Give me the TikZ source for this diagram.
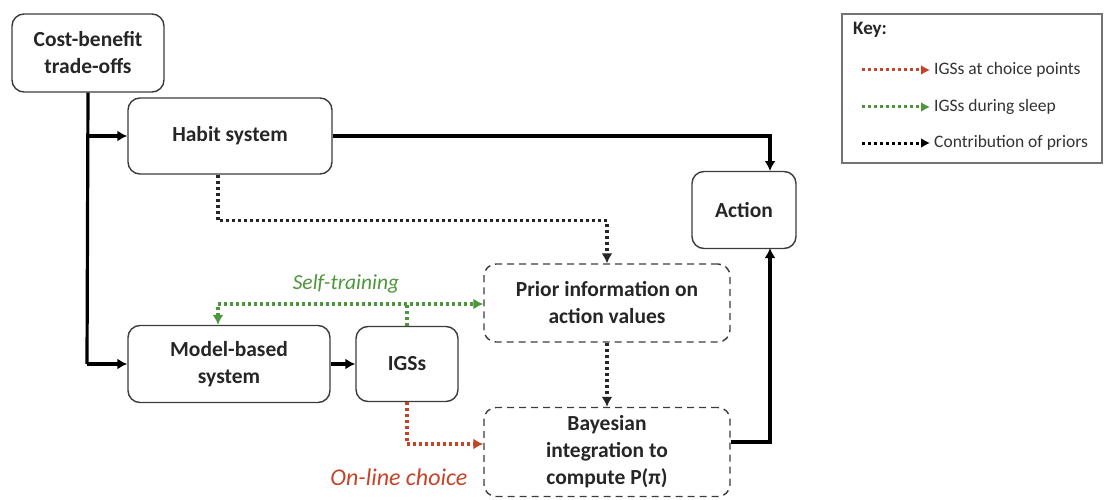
\documentclass[tikz,border=0pt]{standalone}
\usepackage{fontspec}
\setmainfont{Carlito}
\usetikzlibrary{arrows.meta,calc}
\definecolor{redc}{RGB}{196,68,40}
\definecolor{greenc}{RGB}{78,150,60}
\definecolor{boxc}{RGB}{60,60,60}
\tikzset{
  x=1pt,y=-1pt,
  solidbox/.style={draw=boxc,line width=1.4pt,rounded corners=12pt,align=center,font=\bfseries\fontsize{21.5}{27}\selectfont,text=black!85,inner sep=0pt},
  dashbox/.style={solidbox,dash pattern=on 7pt off 5pt},
  flow/.style={line width=3.2pt,-{Latex[length=10pt,width=11pt]}},
  flowplain/.style={line width=3.2pt},
  dotline/.style={line width=3.4pt,dash pattern=on 3pt off 3pt},
  prior/.style={dotline,black!85,-{Latex[length=10pt,width=11pt]}},
  sleep/.style={dotline,greenc},
  choice/.style={dotline,redc},
  keytext/.style={anchor=west,font=\fontsize{17.5}{20}\selectfont,text=black!80,inner sep=0pt}
}
\begin{document}
\begin{tikzpicture}
\useasboundingbox (0,0) rectangle (1105,500);
% nodes
\node[solidbox,minimum width=152pt,minimum height=78pt] (cb) at (88,53) {Cost-benefit\\trade-offs};
\node[solidbox,minimum width=204pt,minimum height=76pt] (habit) at (230,136) {Habit system};
\node[solidbox,minimum width=104pt,minimum height=77pt] (action) at (744,210) {Action};
\node[dashbox,minimum width=246pt,minimum height=78pt] (prior) at (607,303) {Prior information on\\action values};
\node[solidbox,minimum width=202pt,minimum height=77pt] (mb) at (229,364) {Model-based\\system};
\node[solidbox,minimum width=102pt,minimum height=75pt] (igs) at (407,364) {IGSs};
\node[dashbox,minimum width=246pt,minimum height=89pt] (bayes) at (607,452) {Bayesian\\integration to\\compute P(π)};
\coordinate (ain) at (770,171);
\coordinate (aout) at (770,248);
\coordinate (j1) at (87,136);
\coordinate (j2) at (87,364);
\coordinate (gj) at (407,302);
% solid flows
\draw[flowplain] (cb.south) -- (j2);
\draw[flow] (j1) -- (habit.west);
\draw[flow] (j2) -- (mb.west);
\draw[flow] (mb.east) -- (igs.west);
\draw[flow] (habit.east) -| (ain);
\draw[flow] ([yshift=10pt]bayes.east) -| (aout);
% priors
\draw[prior] ([xshift=-12pt]habit.south) -- ++(0,46) -| (prior.north);
\draw[prior] (prior.south) -- (bayes.north);
% sleep
\draw[sleep,{Latex[length=10pt,width=11pt]}-{Latex[length=10pt,width=11pt]}] ([xshift=-11pt]mb.north) |- ([yshift=-1pt]prior.west);
\draw[sleep] (igs.north) -- (gj);
\node[text=greenc,font=\itshape\fontsize{21.5}{24}\selectfont] (st) at (346,284) {Self-training};
% on-line choice
\draw[choice,-{Latex[length=10pt,width=11pt]}] (igs.south) |- ([yshift=8pt]bayes.west);
\node[text=redc,font=\itshape\fontsize{24}{27}\selectfont,anchor=east] (oc) at (471,477) {On-line choice};
% key
\node[draw=black!55,line width=1.5pt,fill=white,minimum width=260pt,minimum height=149pt,inner sep=0pt] (key) at (972,88.5) {};
\node[anchor=west,font=\bfseries\fontsize{19}{22}\selectfont,text=black!85,inner sep=0pt] (keyt) at (853,30) {Key:};
\coordinate (k1a) at (862,70); \coordinate (k1b) at (930,70);
\coordinate (k2a) at (862,107); \coordinate (k2b) at (930,107);
\coordinate (k3a) at (862,143); \coordinate (k3b) at (930,143);
\draw[choice,line width=3pt,-{Latex[length=9pt,width=10pt]}] (k1a) -- (k1b);
\draw[sleep,line width=3pt,-{Latex[length=9pt,width=10pt]}] (k2a) -- (k2b);
\draw[dotline,line width=3pt,-{Latex[length=9pt,width=10pt]}] (k3a) -- (k3b);
\node[keytext] (kt1) at (934,70) {IGSs at choice points};
\node[keytext] (kt2) at (934,107) {IGSs during sleep};
\node[keytext] (kt3) at (934,143) {Contribution of priors};
\end{tikzpicture}
\end{document}
